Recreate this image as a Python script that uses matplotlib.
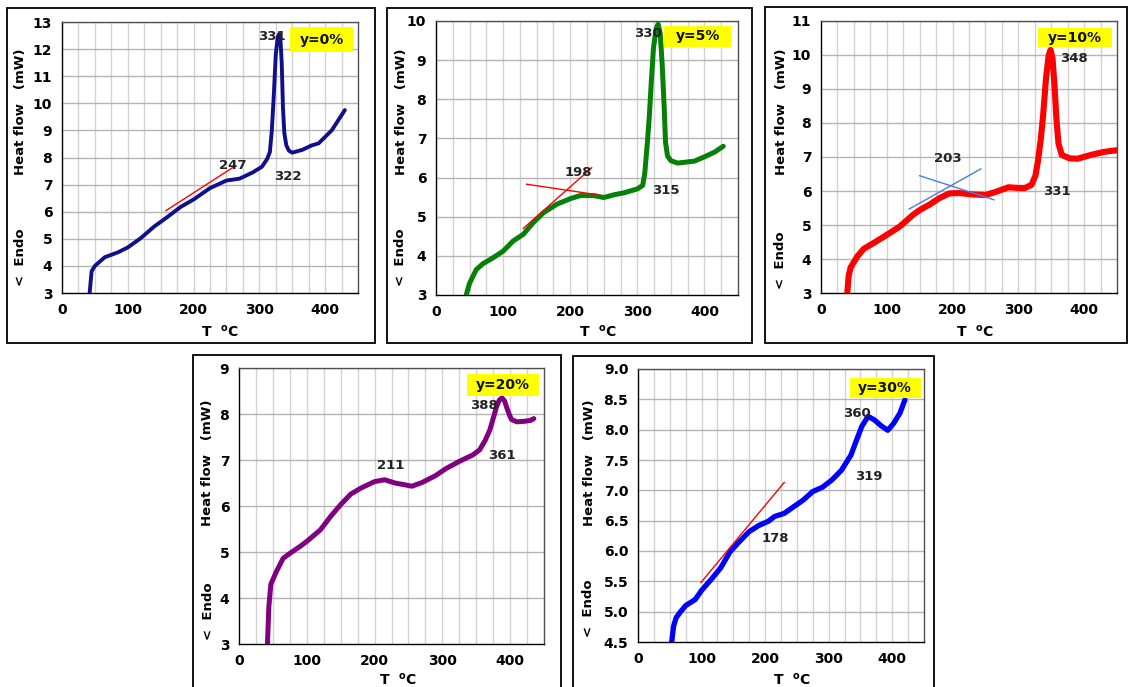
import matplotlib
matplotlib.use("Agg")
import matplotlib.pyplot as plt
from matplotlib.patches import Rectangle

W, H = 1129, 687

# DSC curves, temperature (°C) vs heat flow (mW)
t_0 = [42, 45, 50, 65, 85, 100, 120, 140, 160, 180, 200, 225, 250, 270, 290, 304, 312,
       316, 319, 322, 325, 328, 330, 332, 334, 336, 338, 341, 345, 350, 365, 380, 390,
       410, 430]
hf_0 = [3.0, 3.8, 4.0, 4.32, 4.5, 4.68, 5.03, 5.45, 5.8, 6.17, 6.45, 6.87, 7.15, 7.22,
        7.45, 7.66, 7.95, 8.2, 9.0, 10.3, 11.8, 12.45, 12.55, 12.4, 11.5, 9.8, 8.9, 8.45,
        8.25, 8.18, 8.28, 8.45, 8.52, 9.0, 9.75]

t_5 = [45, 50, 60, 70, 85, 100, 115, 130, 145, 160, 180, 200, 215, 235, 250, 265, 280,
       300, 308, 311, 315, 318, 321, 324, 328, 331, 334, 337, 340, 342, 345, 350, 360,
       375, 385, 400, 415, 428]
hf_5 = [3.0, 3.3, 3.65, 3.8, 3.95, 4.12, 4.38, 4.55, 4.85, 5.1, 5.32, 5.46, 5.54, 5.54,
        5.49, 5.56, 5.61, 5.71, 5.8, 6.1, 6.9, 7.6, 8.5, 9.3, 9.8, 9.92, 9.7, 8.9, 7.8,
        6.9, 6.55, 6.43, 6.37, 6.4, 6.42, 6.53, 6.65, 6.8]

t_10 = [40, 42, 45, 55, 65, 80, 100, 120, 140, 150, 165, 180, 195, 210, 230, 250, 265,
        285, 300, 310, 320, 326, 330, 334, 338, 342, 346, 349, 352, 355, 358, 361, 366,
        378, 390, 410, 430, 450]
hf_10 = [3.0, 3.5, 3.75, 4.07, 4.3, 4.47, 4.71, 4.96, 5.3, 5.44, 5.6, 5.79, 5.93, 5.94,
         5.9, 5.88, 5.97, 6.11, 6.09, 6.09, 6.18, 6.45, 6.9, 7.5, 8.3, 9.3, 9.98, 10.15,
         9.9, 9.1, 8.1, 7.4, 7.06, 6.96, 6.95, 7.06, 7.15, 7.2]

t_20 = [42, 44, 47, 55, 65, 75, 90, 100, 120, 135, 150, 165, 180, 200, 215, 230, 245,
        255, 270, 290, 305, 325, 345, 355, 363, 370, 376, 380, 384, 388, 392, 395, 399,
        402, 410, 420, 430, 435]
hf_20 = [3.0, 3.8, 4.3, 4.57, 4.86, 4.97, 5.12, 5.23, 5.48, 5.77, 6.03, 6.26, 6.39, 6.53,
         6.57, 6.5, 6.46, 6.43, 6.51, 6.66, 6.81, 6.97, 7.11, 7.22, 7.42, 7.65, 7.95, 8.16,
         8.3, 8.35, 8.28, 8.14, 7.98, 7.88, 7.83, 7.84, 7.86, 7.9]

t_30 = [53, 56, 60, 67, 75, 90, 100, 115, 130, 145, 160, 175, 190, 205, 215, 230, 245,
        260, 275, 290, 305, 320, 335, 345, 352, 362, 372, 383, 393, 402, 412, 420]
hf_30 = [4.5, 4.76, 4.9, 5.0, 5.1, 5.2, 5.35, 5.53, 5.72, 5.99, 6.16, 6.32, 6.42, 6.49,
         6.57, 6.62, 6.73, 6.84, 6.98, 7.05, 7.17, 7.33, 7.58, 7.86, 8.05, 8.22, 8.16,
         8.06, 7.99, 8.1, 8.27, 8.49]

# onset tangents: ((x0, x1), (y0, y1))
tang_0 = [((158, 259), (6.04, 7.62))]
tang_5 = [((130, 232), (4.70, 6.25)), ((135, 241), (5.83, 5.56))]
tang_10 = [((134, 243), (5.47, 6.65)), ((150, 263), (6.45, 5.74))]
tang_30 = [((99, 230), (5.48, 7.13))]

# temperature labels: (text, x, y)
notes_0 = [("247", 259, 7.7), ("331", 319, 12.45), ("322", 344, 7.3)]
notes_5 = [("198", 212, 6.14), ("330", 316, 9.68), ("315", 342, 5.66)]
notes_10 = [("203", 193, 6.96), ("348", 384, 9.91), ("331", 358, 6.0)]
notes_20 = [("211", 224, 6.88), ("388", 361, 8.18), ("361", 388, 7.1)]
notes_30 = [("178", 216, 6.21), ("360", 345, 8.27), ("319", 363, 7.22)]

panels = [
    dict(t=t_0, hf=hf_0, c="#10108a", lw=2.8, ylim=(3, 13), ystep=1, tang=tang_0,
         tc="#ff0000", notes=notes_0, tag="y=0%", tagbox=(347, 443, 11.9, 12.8),
         ax=(62, 358, 22, 293), box=(7, 375, 8, 343), ylab_dx=-41,
         hf_y=112, endo_y=257, xl=(220, 332)),
    dict(t=t_5, hf=hf_5, c="#078007", lw=3.6, ylim=(3, 10), ystep=1, tang=tang_5,
         tc="#ff0000", notes=notes_5, tag="y=5%", tagbox=(340, 440, 9.34, 9.87),
         ax=(436, 738, 21, 295), box=(387, 752, 8, 343), ylab_dx=-35,
         hf_y=112, endo_y=257, xl=(598, 332)),
    dict(t=t_10, hf=hf_10, c="#ff0000", lw=4.4, ylim=(3, 11), ystep=1, tang=tang_10,
         tc="#4a7de8", notes=notes_10, tag="y=10%", tagbox=(330, 442, 10.24, 10.78),
         ax=(821, 1117, 21, 293), box=(765, 1127, 7, 343), ylab_dx=-40,
         hf_y=112, endo_y=260, xl=(975, 332)),
    dict(t=t_20, hf=hf_20, c="#800080", lw=3.6, ylim=(3, 9), ystep=1, tang=[],
         tc="#ff0000", notes=notes_20, tag="y=20%", tagbox=(336, 442, 8.4, 8.86),
         ax=(239, 544, 368, 644), box=(193, 561, 355, 700), ylab_dx=-31,
         hf_y=463, endo_y=611, xl=(398, 680)),
    dict(t=t_30, hf=hf_30, c="#0000ff", lw=3.8, ylim=(4.5, 9.0), ystep=0.5, tang=tang_30,
         tc="#ff0000", notes=notes_30, tag="y=30%", tagbox=(333, 445, 8.52, 8.85),
         ax=(638, 924, 369, 642), box=(573, 934, 356, 700), ylab_dx=-49,
         hf_y=463, endo_y=608, xl=(792, 680)),
]


def fx(px):
    return px / W


def fy(py):
    return 1 - py / H


fig = plt.figure(figsize=(W / 100, H / 100), dpi=100)
fig.patch.set_facecolor("white")

for p in panels:
    # outer frame round each panel
    bl, br, bt, bb = p["box"]
    fig.add_artist(Rectangle((fx(bl), fy(bb)), fx(br - bl), (bb - bt) / H,
                             transform=fig.transFigure, fill=False,
                             edgecolor="black", linewidth=1.3))

    l, r, t, b = p["ax"]
    ax = fig.add_axes([fx(l), fy(b), fx(r - l), (b - t) / H])
    ax.set_xlim(0, 450)
    ax.set_ylim(*p["ylim"])

    # grid: vertical every 25, horizontal at every y tick
    for xv in range(25, 450, 25):
        ax.axvline(xv, color="#d2d2d2", linewidth=1.0, zorder=0)
    y0, y1 = p["ylim"]
    n = int(round((y1 - y0) / p["ystep"]))
    yticks = [y0 + i * p["ystep"] for i in range(n + 1)]
    for yv in yticks[1:]:
        ax.axhline(yv, color="#b4b4b4", linewidth=1.0, zorder=0)

    ax.plot(p["t"], p["hf"], color=p["c"], linewidth=p["lw"],
            solid_capstyle="round", solid_joinstyle="round", zorder=3)

    for xs, ys in p["tang"]:
        ax.plot(xs, ys, color=p["tc"], linewidth=1.0, zorder=4)

    for txt, xv, yv in p["notes"]:
        ax.text(xv, yv, txt, ha="center", va="center", fontsize=9.5,
                fontweight="bold", color="#222222", zorder=5)

    x0, x1, ty0, ty1 = p["tagbox"]
    ax.add_patch(Rectangle((x0, ty0), x1 - x0, ty1 - ty0, facecolor="#ffff00",
                           edgecolor="none", zorder=5))
    ax.text((x0 + x1) / 2, (ty0 + ty1) / 2, p["tag"], ha="center", va="center",
            fontsize=10, fontweight="bold", color="#111111", zorder=6)

    ax.set_xticks([0, 100, 200, 300, 400])
    ax.set_yticks(yticks)
    if p["ystep"] < 1:
        ax.set_yticklabels([f"{v:.1f}" for v in yticks])
    else:
        ax.set_yticklabels([f"{v:g}" for v in yticks])
    ax.tick_params(length=0, labelsize=10, pad=7)
    for lab in ax.get_xticklabels() + ax.get_yticklabels():
        lab.set_fontweight("bold")

    for side in ("left", "bottom"):
        ax.spines[side].set_color("black")
        ax.spines[side].set_linewidth(1.0)
    for side in ("top", "right"):
        ax.spines[side].set_color("#505050")
        ax.spines[side].set_linewidth(1.0)

    # axis titles
    xlab = l + p["ylab_dx"]
    fig.text(fx(xlab), fy(p["hf_y"]), "Heat flow   (mW)", rotation=90,
             ha="center", va="center", fontsize=9.5, fontweight="bold")
    fig.text(fx(xlab), fy(p["endo_y"]), "<  Endo", rotation=90,
             ha="center", va="center", fontsize=9.5, fontweight="bold")
    fig.text(fx(p["xl"][0]), fy(p["xl"][1]), "T  $^{\\mathbf{o}}$C",
             ha="center", va="center", fontsize=10, fontweight="bold")

fig.savefig("out.png", dpi=100)
